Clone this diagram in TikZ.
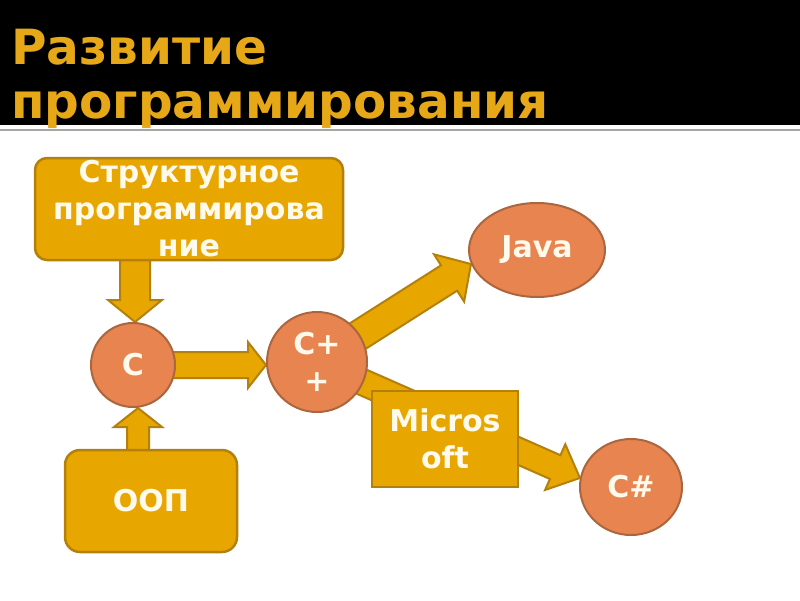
\documentclass[tikz,border=0pt]{standalone}
\usepackage{fontspec}
\setmainfont{DejaVu Sans}
\usetikzlibrary{calc,shapes.geometric,backgrounds}

\definecolor{gold}{RGB}{232,166,0}
\definecolor{goldline}{RGB}{180,128,12}
\definecolor{titlegold}{RGB}{231,168,24}
\definecolor{coral}{RGB}{232,132,80}
\definecolor{coralline}{RGB}{170,102,62}
\definecolor{ltext}{RGB}{255,250,236}

% block arrow: from, to, half shaft, half head, head length
\newcommand\blockarrow[5]{%
  \path[barrow] let \p3=($(#2)!#5!(#1)$) in
    ($(#1)!#3!90:(#2)$) -- ($(\p3)!#3!90:(#2)$) -- ($(\p3)!#4!90:(#2)$) -- (#2)
    -- ($(\p3)!#4!-90:(#2)$) -- ($(\p3)!#3!-90:(#2)$) -- ($(#1)!#3!-90:(#2)$) -- cycle;}

\begin{document}
\begin{tikzpicture}[
  x=1pt,y=-1pt,
  title/.style={text=titlegold,font=\bfseries\fontsize{48.5}{54}\selectfont,align=left,inner sep=0pt},
  box/.style={draw=goldline,fill=gold,line width=2.5pt,text=ltext,
    font=\bfseries\fontsize{30}{37}\selectfont,align=center,inner sep=0pt},
  rbox/.style={box,rounded corners=12pt},
  lang/.style={ellipse,draw=coralline,fill=coral,line width=2pt,text=ltext,
    font=\bfseries\fontsize{30}{37}\selectfont,align=center,inner sep=0pt},
  barrow/.style={draw=goldline,fill=gold,line width=2pt,line join=miter},
]
\useasboundingbox (0,0) rectangle (800,600);

% ---------- header ----------
\fill[black] (0,0) rectangle (800,125);
\draw[gray!70,line width=2pt] (0,130) -- (800,130);
\node[title,anchor=north west] (head) at (11,29) {Развитие\\программирования};

% ---------- boxes and languages ----------
\node[rbox,minimum width=308,minimum height=102] (struct) at (189,209)
  {Структурное\\программирова\\ние};
\node[rbox,minimum width=172,minimum height=102,rounded corners=15pt] (oop) at (151,501) {ООП};
\node[lang,minimum width=84,minimum height=84] (c) at (133,365) {C};
\node[lang,minimum width=100,minimum height=100] (cpp) at (317,362) {C+\\+};
\node[lang,minimum width=136,minimum height=94] (java) at (537,250) {Java};
\node[lang,minimum width=102,minimum height=96] (cs) at (631,487) {C\#};

\coordinate (t1) at ($(c.north |- struct.south)+(2,-6)$);
\coordinate (t2) at ($(c.south |- oop.north)+(5,6)$);
\coordinate (t3) at ($(c.south)+(5,0)$);
\coordinate (t4) at (cpp.west |- c.center);

% ---------- arrows ----------
\begin{scope}[on background layer]
  \blockarrow{t1}{$(c.north)+(2,0)$}{15pt}{27pt}{22pt}
  \blockarrow{t2}{t3}{11pt}{24pt}{19pt}
  \blockarrow{c.center}{t4}{13pt}{23pt}{18pt}
  \blockarrow{cpp.center}{java.192}{15pt}{28pt}{26pt}
  \blockarrow{cpp.center}{cs.170}{13pt}{25pt}{27pt}
\end{scope}

\node[box,minimum width=146,minimum height=96] (ms) at (445,439) {Micros\\oft};

\end{tikzpicture}
\end{document}
